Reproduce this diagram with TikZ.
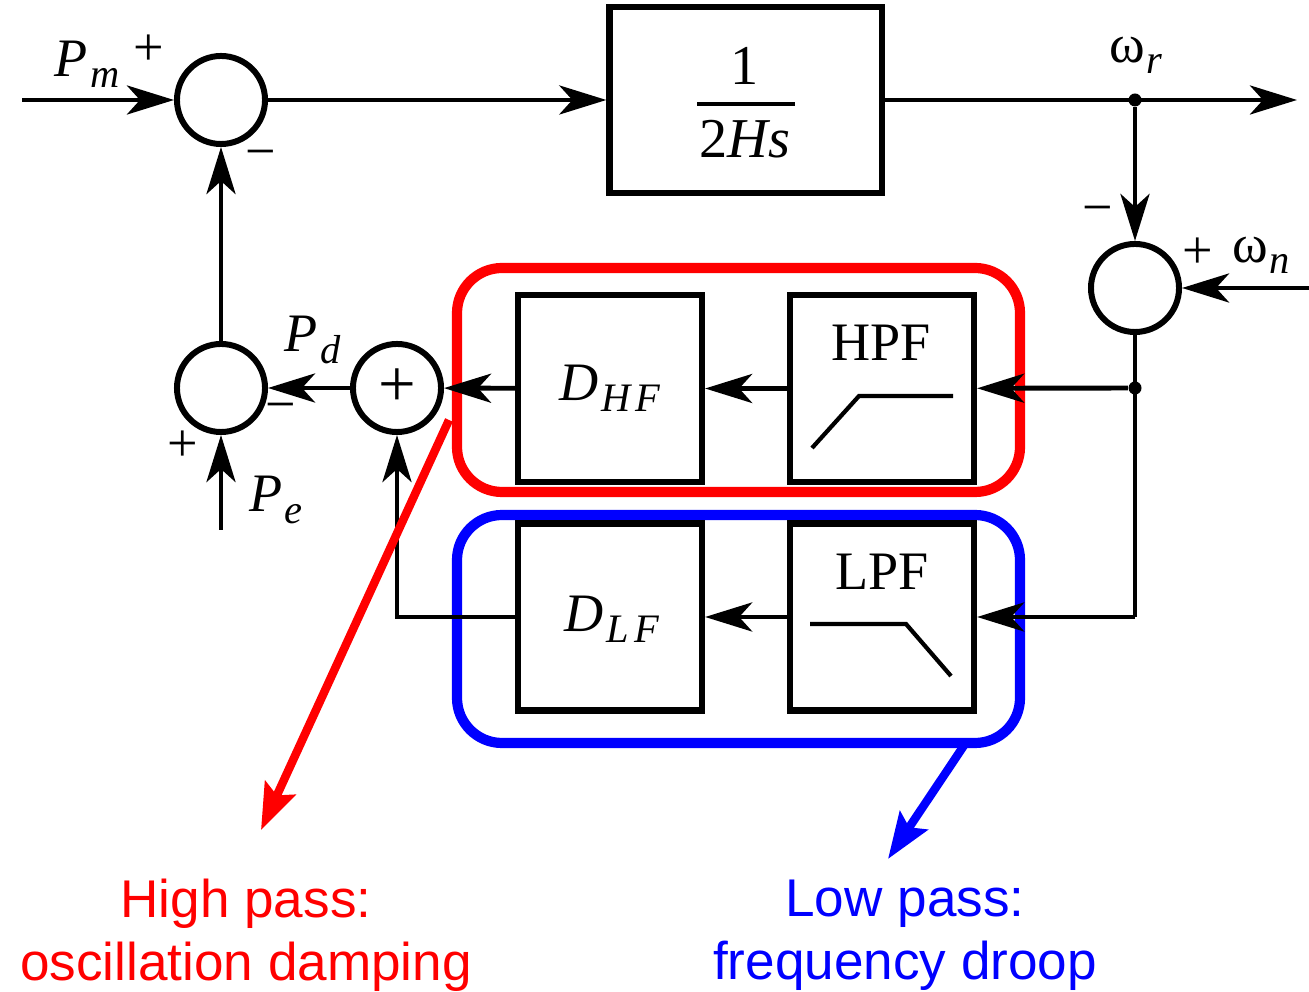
\documentclass[tikz,border=0pt]{standalone}
\usepackage{fontspec}
\setmainfont{Liberation Serif}
\newfontfamily\capsans{Liberation Sans}
\usetikzlibrary{arrows.meta,calc}
\newcommand\symsub[2]{\textit{#1}\kern0.8pt\raisebox{-3.2pt}{\fontsize{11.5}{12}\selectfont\textit{#2}}}
\begin{document}
\begin{tikzpicture}[x=0.01cm,y=-0.01cm,
  every node/.style={font=\fontsize{15.4}{18}\selectfont},
  tip/.style={-{Stealth[length=0.47cm,width=0.29cm,inset=0.13cm]}},
  wire/.style={line width=1.4pt, tip},
  plainwire/.style={line width=1.4pt},
  sumc/.style={circle, draw, line width=1.7pt, minimum size=0.88cm, inner sep=0pt},
  blk/.style={rectangle, draw, line width=1.75pt, minimum width=1.84cm, minimum height=1.87cm, inner sep=0pt},
  dotj/.style={circle, fill, inner sep=0pt, minimum size=0.13cm},
  lbl/.style={inner sep=0pt},
  hilite/.style={line width=2.9pt, rounded corners=0.45cm},
  callout/.style={line width=2.4pt, -{Stealth[length=0.46cm,width=0.33cm,inset=0.08cm]}},
  caption/.style={font=\capsans\fontsize{15.1}{18}\selectfont, align=center, inner sep=0pt}
]
\useasboundingbox (0,0) rectangle (1309,992);

% highlight boxes
\draw[hilite, red] (457,268) rectangle (1020,492);
\draw[hilite, blue] (457,515) rectangle (1020,743);

% summing junctions
\node[sumc] (s1) at (221,100) {};
\node[sumc] (s2) at (1135,288) {};
\node[sumc, font=\fontsize{19}{20}\selectfont] (s3) at (397,388) {+};
\node[sumc] (s4) at (221,388) {};

% blocks
\node[blk, minimum width=2.72cm, minimum height=1.86cm] (g) at (745.5,100) {};
\node[blk] (hpf) at (882,388.5) {};
\node[blk] (dhf) at (610,388.5) {};
\node[blk] (lpf) at (882,617) {};
\node[blk] (dlf) at (610,617) {};

% block contents
\node[lbl, font=\fontsize{16}{18}\selectfont] (one) at (745,66) {1};
\draw[line width=1.2pt] (697,104) -- (795,104);
\node[lbl, font=\fontsize{16}{18}\selectfont] (den) at (745,139) {2\textit{Hs}};
\node[lbl] (hpft) at (881,343) {HPF};
\draw[line width=1.2pt] (812,448) -- (859,396) -- (953,396);
\node[lbl] (lpft) at (882,572) {LPF};
\draw[line width=1.2pt] (810,624) -- (906,624) -- (951,676);
\node[lbl] (dhft) at (610,388) {\symsub{D}{H\kern1.5pt F}};
\node[lbl] (dlft) at (612,619) {\symsub{D}{L\kern1.5pt F}};

% free ends and junction points
\coordinate (pm) at (22,100);
\coordinate (out) at (1297,100);
\coordinate (wn) at (1309,288);
\coordinate (pe) at (221,530);
\node[dotj] (jr) at (1135,100) {};
\node[dotj] (jm) at (1135,388) {};
\coordinate (jl) at (1135,617);

% connectors
\draw[wire] (pm) -- (s1);
\draw[wire] (s1) -- (g);
\draw[wire] (g) -- (out);
\draw[wire] (jr) -- (s2);
\draw[wire] (wn) -- (s2);
\draw[plainwire] (s2) -- (jl);
\draw[wire] (jm) -- (hpf);
\draw[wire] (jl) -- (lpf);
\draw[wire] (hpf) -- (dhf);
\draw[wire] (lpf) -- (dlf);
\draw[wire] (dhf) -- (s3);
\draw[wire] (dlf) -| (s3);
\draw[wire] (s3) -- (s4);
\draw[wire] (s4) -- (s1);
\draw[wire] (pe) -- (s4);

% signal labels and signs
\node[lbl] (pml) at (87,64) {\symsub{P}{m}};
\node[lbl] (pmp) at (149,50) {+};
\node[lbl] (s1m) at (261,160) {−};
\node[lbl] (wrl) at (1136,55) {ω\kern0.5pt\raisebox{-3.2pt}{\fontsize{11.5}{12}\selectfont\textit{r}}};
\node[lbl] (s2m) at (1098,216) {−};
\node[lbl] (s2p) at (1198,253) {+};
\node[lbl] (wnl) at (1261,255) {ω\kern0.5pt\raisebox{-3.2pt}{\fontsize{11.5}{12}\selectfont\textit{n}}};
\node[lbl] (pdl) at (313,340) {\symsub{P}{d}};
\node[lbl] (s4m) at (281,413) {−};
\node[lbl] (s4p) at (183,446) {+};
\node[lbl] (pel) at (276,500) {\symsub{P}{e}};

% callouts
\coordinate (ra) at (449,420);
\coordinate (rb) at (261,830);
\coordinate (ba) at (965,744);
\coordinate (bb) at (888,859);
\draw[callout, red] (ra) -- (rb);
\draw[callout, blue] (ba) -- (bb);
\node[caption, red] (hpc) at (246,935) {High pass:\\oscillation damping};
\node[caption, blue] (lpc) at (905,935) {Low pass:\\frequency droop};
\end{tikzpicture}
\end{document}
